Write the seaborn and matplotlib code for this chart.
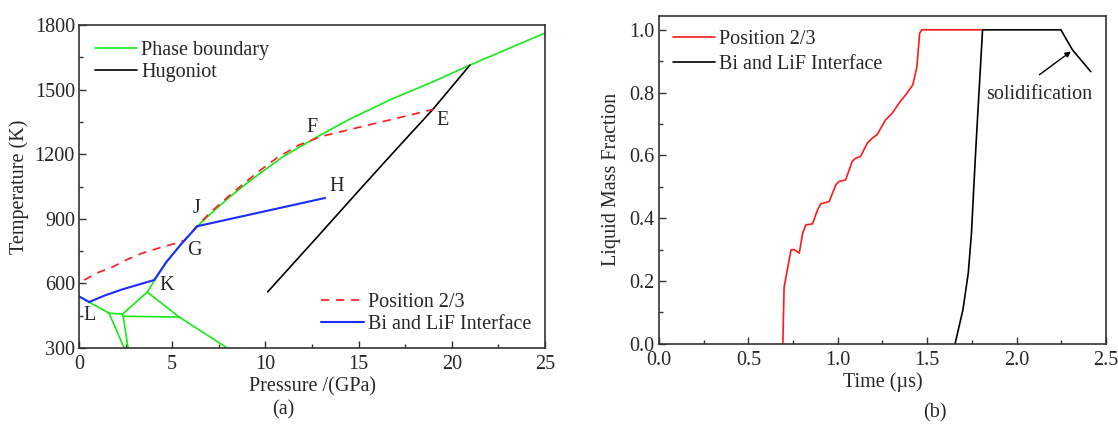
import numpy as np
import pandas as pd
import matplotlib
matplotlib.use("Agg")
import matplotlib.pyplot as plt
from matplotlib.ticker import MultipleLocator, FormatStrFormatter
import seaborn as sns

# ---------------- data: panel (a) ----------------
# phase boundary (melt curve)
melt_P = [0.0, 0.54]
melt_T = [540, 514]
melt2_P = [3.66, 4.03, 4.68, 5.5, 6.35, 7.2, 8.2, 9.14, 10.93, 12.72, 14.5, 16.67, 19.0, 20.97, 25.0]
melt2_T = [560, 611, 699, 785, 866, 935, 1010, 1075, 1188, 1278, 1362, 1452, 1537, 1614, 1763]
# solid-solid phase boundaries (segments)
seg_P = [[0.54, 1.61], [1.61, 2.33], [1.61, 2.42], [2.33, 2.37], [2.33, 3.66],
         [2.37, 2.63], [2.37, 5.38], [3.66, 5.38, 7.96]]
seg_T = [[514, 462], [462, 458], [462, 300], [458, 448], [458, 560],
         [448, 300], [448, 444], [560, 444, 300]]
# Hugoniot
hug_P = [10.12, 12.72, 15.05, 16.67, 19.0, 20.97]
hug_T = [561, 810, 1035, 1190, 1410, 1614]
# Position 2/3
pos_P = [0.27, 1.0, 1.78, 2.6, 3.4, 4.3, 5.2, 5.65, 6.35, 7.2, 8.2, 9.5, 10.6, 11.8, 13.05, 19.0]
pos_T = [616, 650, 676, 712, 741, 765, 787, 800, 870, 942, 1018, 1111, 1182, 1243, 1284, 1408]
# Bi and LiF interface
bi_P = [0.0, 0.54, 1.4, 2.3, 3.2, 4.03, 4.68, 5.5, 6.35, 13.2]
bi_T = [540, 514, 545, 572, 595, 616, 699, 785, 866, 997]

pt_labels = ["L", "K", "G", "J", "F", "E", "H"]
pt_P = [0.54, 4.68, 6.18, 6.29, 12.5, 19.5, 13.8]
pt_T = [453, 592, 755, 950, 1326, 1359, 1048]

# ---------------- data: panel (b) ----------------
red_t = [0.693, 0.70, 0.711, 0.739, 0.757, 0.785, 0.804, 0.822, 0.859, 0.887, 0.906, 0.952,
         0.989, 1.007, 1.044, 1.081, 1.10, 1.128, 1.165, 1.193, 1.22, 1.267, 1.304, 1.35,
         1.387, 1.42, 1.443, 1.458, 1.47, 1.813]
red_y = [0.0, 0.18, 0.214, 0.30, 0.30, 0.289, 0.353, 0.379, 0.382, 0.427, 0.446, 0.453,
         0.506, 0.517, 0.522, 0.581, 0.591, 0.597, 0.639, 0.655, 0.666, 0.713, 0.734, 0.772,
         0.798, 0.825, 0.883, 0.989, 1.0, 1.0]
blk_t = [1.656, 1.70, 1.73, 1.748, 1.761, 1.776, 1.794, 1.81, 2.248, 2.313, 2.415]
blk_y = [0.0, 0.108, 0.225, 0.353, 0.50, 0.66, 0.84, 1.0, 1.0, 0.936, 0.867]

# ---------------- style ----------------
sns.set_style("ticks")
plt.rcParams['font.family'] = ['Liberation Serif', 'DejaVu Serif']
FS = 14.5
GREEN = '#18e818'
BLUE = '#1a2cff'
RED = '#ff1a1a'

fig = plt.figure(figsize=(11.18, 4.24), dpi=100)
axa = fig.add_axes([0.0707, 0.179, 0.4168, 0.762])
axb = fig.add_axes([0.5894, 0.189, 0.3998, 0.774])

def line(ax, x, y, **kw):
    df = pd.DataFrame({"x": x, "y": y})
    sns.lineplot(data=df, x="x", y="y", ax=ax, sort=False, estimator=None, **kw)

# panel (a)
lw = 1.2
for p, t in zip(seg_P, seg_T):
    line(axa, p, t, color=GREEN, lw=lw)
line(axa, melt_P, melt_T, color=GREEN, lw=lw)
line(axa, melt2_P, melt2_T, color=GREEN, lw=lw, label="Phase boundary")
line(axa, hug_P, hug_T, color='black', lw=lw, label="Hugoniot")
line(axa, pos_P, pos_T, color=RED, lw=lw, dashes=(5, 4), label="Position 2/3")
line(axa, bi_P, bi_T, color=BLUE, lw=1.5, label="Bi and LiF Interface")

for s, p, t in zip(pt_labels, pt_P, pt_T):
    axa.text(p, t, s, fontsize=FS, ha='center', va='center')

axa.set_xlim(0, 25)
axa.set_ylim(300, 1800)
axa.xaxis.set_major_locator(MultipleLocator(5))
axa.xaxis.set_minor_locator(MultipleLocator(2.5))
axa.yaxis.set_major_locator(MultipleLocator(300))
axa.yaxis.set_minor_locator(MultipleLocator(150))
axa.set_xlabel("Pressure /(GPa)", fontsize=FS, labelpad=2)
axa.set_ylabel("Temperature (K)", fontsize=FS, labelpad=4)

handles, labels = axa.get_legend_handles_labels()
hmap = dict(zip(labels, handles))
leg1 = axa.legend([hmap["Phase boundary"], hmap["Hugoniot"]], ["Phase boundary", "Hugoniot"],
                  loc='upper left', frameon=False, fontsize=FS, handlelength=2.1,
                  borderaxespad=0.4, labelspacing=0.15, handletextpad=0.2)
axa.add_artist(leg1)
axa.legend([hmap["Position 2/3"], hmap["Bi and LiF Interface"]], ["Position 2/3", "Bi and LiF Interface"],
           loc='lower right', frameon=False, fontsize=FS, handlelength=2.1,
           borderaxespad=0.3, labelspacing=0.15, handletextpad=0.2)

# panel (b)
line(axb, red_t, red_y, color=RED, lw=lw, label="Position 2/3")
line(axb, blk_t, blk_y, color='black', lw=lw, label="Bi and LiF Interface")
axb.text(2.128, 0.793, "solidification", fontsize=FS, ha='center', va='center')
axb.annotate("", xy=(2.304, 0.931), xytext=(2.128, 0.857),
             arrowprops=dict(arrowstyle='-|>', color='black', lw=1.0, mutation_scale=8,
                             shrinkA=0, shrinkB=0))
axb.set_xlim(0, 2.5)
axb.set_ylim(0, 1.045)
axb.xaxis.set_major_locator(MultipleLocator(0.5))
axb.xaxis.set_minor_locator(MultipleLocator(0.25))
axb.yaxis.set_major_locator(MultipleLocator(0.2))
axb.yaxis.set_minor_locator(MultipleLocator(0.1))
axb.xaxis.set_major_formatter(FormatStrFormatter('%.1f'))
axb.yaxis.set_major_formatter(FormatStrFormatter('%.1f'))
axb.set_xlabel("Time (µs)", fontsize=FS, labelpad=2)
axb.set_ylabel("Liquid Mass Fraction", fontsize=FS, labelpad=6)
axb.legend(loc='upper left', frameon=False, fontsize=FS, handlelength=2.1,
           borderaxespad=0.3, labelspacing=0.3, handletextpad=0.2)

for ax in (axa, axb):
    for sp in ax.spines.values():
        sp.set_visible(True)
        sp.set_color('#333333')
        sp.set_linewidth(1.2)
    ax.tick_params(which='both', direction='in', top=False, right=False, labelsize=FS,
                   color='#333333')
    ax.tick_params(which='major', length=5, width=1.0)
    ax.tick_params(which='minor', length=3, width=1.0)
    ax.tick_params(axis='x', which='major', pad=5)
    ax.tick_params(axis='y', which='major', pad=3)

fig.text(283 / 1118, 1 - 410 / 424, "(a)", fontsize=FS, ha='center', va='center')
fig.text(935 / 1118, 1 - 413 / 424, "(b)", fontsize=FS, ha='center', va='center')

fig.savefig("out.png", dpi=100)
